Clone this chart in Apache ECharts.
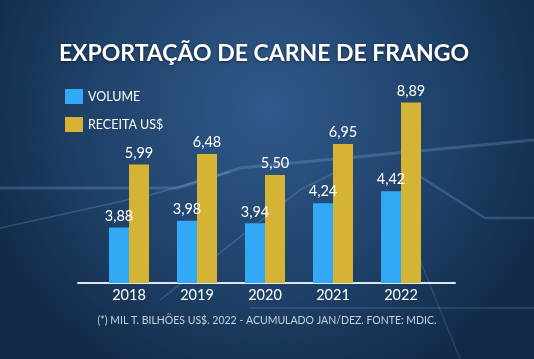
<!DOCTYPE html>
<html>
<head>
<meta charset="utf-8">
<script src="https://cdn.jsdelivr.net/npm/echarts@6/dist/echarts.min.js"></script>
<style>
html,body{margin:0;padding:0;width:534px;height:359px;overflow:hidden;background:#1b3a5e;}
#c{width:534px;height:359px;}
</style>
</head>
<body>
<div id="c"></div>
<script>
const categories = ['2018', '2019', '2020', '2021', '2022'];
const volume = [3.88, 3.98, 3.94, 4.24, 4.42];
const receita = [5.99, 6.48, 5.50, 6.95, 8.89];
const titleText = 'EXPORTAÇÃO DE CARNE DE FRANGO';
const footerText = '(*) MIL T. BILHÕES US$. 2022 - ACUMULADO JAN/DEZ. FONTE: MDIC.';
const legendNames = ['VOLUME', 'RECEITA US$'];

const chart = echarts.init(document.getElementById('c'), null, {renderer: 'canvas'});
const fmt = p => p.value.toFixed(2).replace('.', ',');
const glow = 'rgba(150,200,255,0.22)';
const FONT = 'Lato';

chart.setOption({
  backgroundColor: {
    type: 'radial', x: 0.5, y: 0.3, r: 0.85,
    colorStops: [
      {offset: 0, color: '#30598a'},
      {offset: 0.6, color: '#1f4169'},
      {offset: 1, color: '#122a48'}
    ]
  },
  animation: false,
  title: {
    text: titleText,
    left: 259, top: 37, textAlign: 'center',
    textStyle: {
      color: '#ffffff', fontFamily: FONT, fontWeight: 'bold', fontSize: 23,
      textShadowColor: 'rgba(0,0,0,0.5)', textShadowBlur: 3, textShadowOffsetY: 1
    }
  },
  legend: {
    orient: 'vertical', left: 65, top: 89, padding: 0,
    itemWidth: 18, itemHeight: 15, itemGap: 13,
    icon: 'rect',
    data: legendNames,
    textStyle: {color: '#ffffff', fontFamily: FONT, fontSize: 12.5}
  },
  grid: [
    {left: 95, right: 99, top: 90, bottom: 76},
    {left: 78, right: 79, top: 90, bottom: 76}
  ],
  xAxis: [
    {
      type: 'category', data: categories, gridIndex: 0,
      axisLine: {show: false}, axisTick: {show: false},
      axisLabel: {color: '#ffffff', fontFamily: FONT, fontSize: 14.5, margin: 5}
    },
    {
      type: 'value', gridIndex: 1, min: 0, max: 1,
      axisLine: {show: true, lineStyle: {color: '#dde6ef', width: 2}},
      axisTick: {show: false}, axisLabel: {show: false}, splitLine: {show: false}
    }
  ],
  yAxis: [
    {type: 'value', gridIndex: 0, min: 3.05, max: 5.93, show: false},
    {type: 'value', gridIndex: 0, min: 0.45, max: 9.47, show: false},
    {type: 'value', gridIndex: 1, show: false}
  ],
  graphic: [
    {type: 'polyline', silent: true, z: -1, shape: {points: [[0,188],[178,188],[240,168],[534,140]]}, style: {stroke: glow, lineWidth: 3, fill: null}},
    {type: 'polyline', silent: true, z: -1, shape: {points: [[0,228],[150,195],[230,172]]}, style: {stroke: glow, lineWidth: 1.5, fill: null}},
    {type: 'polyline', silent: true, z: -1, shape: {points: [[160,300],[300,190],[340,170]]}, style: {stroke: glow, lineWidth: 1.5, fill: null}},
    {type: 'polyline', silent: true, z: -1, shape: {points: [[410,170],[485,218],[534,218]]}, style: {stroke: glow, lineWidth: 2.5, fill: null}},
    {type: 'polyline', silent: true, z: -1, shape: {points: [[250,308],[534,308]]}, style: {stroke: 'rgba(150,200,255,0.15)', lineWidth: 2, fill: null}},
    {type: 'polyline', silent: true, z: -1, shape: {points: [[420,260],[460,359]]}, style: {stroke: 'rgba(150,200,255,0.15)', lineWidth: 1.5, fill: null}},
    {
      type: 'text', left: 'center', top: 315, silent: true,
      style: {text: footerText, fill: '#c6d2df', font: '10.5px "Lato"'}
    }
  ],
  series: [
    {
      name: legendNames[0], type: 'bar', data: volume,
      xAxisIndex: 0, yAxisIndex: 0,
      barWidth: 20, barGap: '0%',
      itemStyle: {color: '#32a9f6'},
      label: {show: true, position: 'top', distance: 4, color: '#ffffff', fontFamily: FONT, fontSize: 14.5, formatter: fmt}
    },
    {
      name: legendNames[1], type: 'bar', data: receita,
      xAxisIndex: 0, yAxisIndex: 1,
      barWidth: 20, barGap: '0%',
      itemStyle: {color: '#d4b335'},
      label: {show: true, position: 'top', distance: 4, color: '#ffffff', fontFamily: FONT, fontSize: 14.5, formatter: fmt}
    }
  ]
});
</script>
</body>
</html>
